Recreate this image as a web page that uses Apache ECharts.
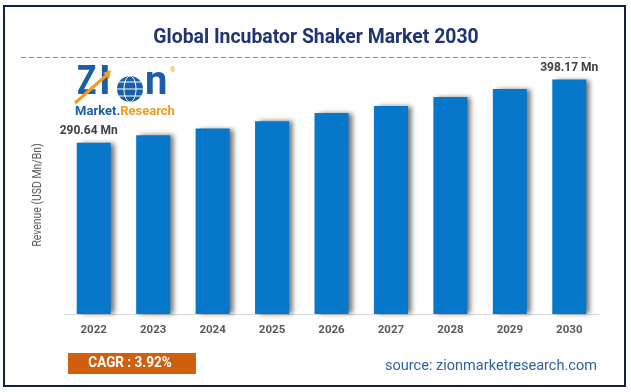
<!DOCTYPE html>
<html>
<head>
<meta charset="utf-8">
<script src="https://cdn.jsdelivr.net/npm/echarts@6/dist/echarts.min.js"></script>
<style>
html,body{margin:0;padding:0;background:#fff;}
#chart{width:631px;height:392px;}
</style>
</head>
<body>
<div id="chart"></div>
<script>
const titleText = 'Global Incubator Shaker Market 2030';
const years = ['2022','2023','2024','2025','2026','2027','2028','2029','2030'];
const revenue = [290.64, 303.5, 315.0, 327.4, 341.5, 353.3, 368.6, 382.2, 398.17];
const labelledIdx = [0, 8];
const unit = ' Mn';
const yAxisName = 'Revenue (USD Mn/Bn)';
const cagrText = 'CAGR : 3.92%';
const sourceText = 'source: zionmarketresearch.com';

const FONT = 'Roboto,sans-serif';
const chart = echarts.init(document.getElementById('chart'), null, {renderer:'canvas'});

const barData = revenue.map((v, i) => {
  const item = {value: v};
  if (labelledIdx.includes(i)) {
    item.label = {show: true, offset: i === 0 ? [-5, 0] : [0, 0]};
  }
  return item;
});

const option = {
  animation: false,
  backgroundColor: '#fff',
  grid: {left: 64, right: 32, top: 49, bottom: 78},
  xAxis: {
    type: 'category',
    data: years,
    axisLine: {show: true, lineStyle: {color: '#D9D9D9', width: 1}},
    axisTick: {show: false},
    axisLabel: {color: '#595959', fontFamily: FONT, fontWeight: 'bold', fontSize: 11.5, margin: 10}
  },
  yAxis: {
    type: 'value', min: 0, max: 450,
    show: false
  },
  series: [{
    type: 'bar',
    data: barData,
    barWidth: 34,
    itemStyle: {
      color: '#0777CA',
      shadowColor: 'rgba(0,0,0,0.55)',
      shadowBlur: 5,
      shadowOffsetX: 4,
      shadowOffsetY: 0
    },
    label: {
      show: false,
      position: 'top',
      distance: 6,
      color: '#404040',
      fontFamily: FONT,
      fontWeight: 'bold',
      fontSize: 12,
      formatter: p => p.value + unit
    }
  }],
  graphic: [
    {type: 'rect', shape: {x: 4, y: 6, width: 621, height: 380}, style: {fill: 'none', stroke: '#0E1F4D', lineWidth: 2}, z: 10},
    {type: 'text', x: 316, y: 38, scaleX: 0.97, style: {text: titleText, fill: '#1F3470', font: 'bold 20px ' + FONT, align: 'center', verticalAlign: 'middle'}},
    {type: 'line', shape: {x1: 21, y1: 57.5, x2: 590, y2: 57.5}, style: {stroke: '#5F8FD4', lineWidth: 1, lineDash: [5, 3]}},
    {type: 'text', x: 38, y: 195, rotation: Math.PI / 2, scaleX: 0.87, style: {text: yAxisName, fill: '#595959', font: '12px ' + FONT, align: 'center', verticalAlign: 'middle'}},
    {type: 'rect', shape: {x: 68, y: 353, width: 128, height: 21}, style: {fill: '#D0600E'}},
    {type: 'text', x: 130, y: 363.5, scaleX: 0.9, style: {text: cagrText, fill: '#fff', font: 'bold 15px ' + FONT, align: 'center', verticalAlign: 'middle'}},
    {type: 'text', x: 597, y: 366, scaleX: 0.97, style: {text: sourceText, fill: '#2E62A0', font: '15px ' + FONT, align: 'right', verticalAlign: 'middle'}},
    // logo
    {type: 'line', shape: {x1: 75, y1: 103, x2: 108, y2: 74}, style: {stroke: '#F39A1E', lineWidth: 3}, z: 5},
    {type: 'polygon', shape: {points: [[111, 70], [103, 73], [109, 79]]}, style: {fill: '#F39A1E'}, z: 5},
    {type: 'text', x: 77, y: 104, scaleX: 0.8, style: {text: 'Z', fill: '#1B5EA6', font: 'bold 40px ' + FONT, verticalAlign: 'bottom'}, z: 4},
    {type: 'text', x: 99, y: 104, style: {text: 'I', fill: '#1B5EA6', font: 'bold 40px ' + FONT, verticalAlign: 'bottom'}, z: 4},
    {type: 'circle', shape: {cx: 130, cy: 89, r: 13}, style: {fill: '#1B5EA6'}},
    {type: 'ellipse', shape: {cx: 130, cy: 89, rx: 6, ry: 13}, style: {fill: 'none', stroke: '#fff', lineWidth: 1}},
    {type: 'line', shape: {x1: 117, y1: 89, x2: 143, y2: 89}, style: {stroke: '#fff', lineWidth: 1}},
    {type: 'line', shape: {x1: 119, y1: 82, x2: 141, y2: 82}, style: {stroke: '#fff', lineWidth: 1}},
    {type: 'line', shape: {x1: 119, y1: 96, x2: 141, y2: 96}, style: {stroke: '#fff', lineWidth: 1}},
    {type: 'text', x: 145, y: 104, style: {text: 'n', fill: '#1B5EA6', font: 'bold 40px ' + FONT, verticalAlign: 'bottom'}, z: 4},
    {type: 'text', x: 170, y: 70, style: {text: '®', fill: '#F39A1E', font: '7px ' + FONT, verticalAlign: 'middle'}},
    {type: 'text', x: 125, y: 112, style: {
      text: '{a|Market.}{b|Research}', align: 'center', verticalAlign: 'middle',
      rich: {
        a: {fill: '#1B5EA6', font: 'bold 13px ' + FONT},
        b: {fill: '#F39A1E', font: 'bold 13px ' + FONT}
      }
    }}
  ]
};
chart.setOption(option);
</script>
</body>
</html>
